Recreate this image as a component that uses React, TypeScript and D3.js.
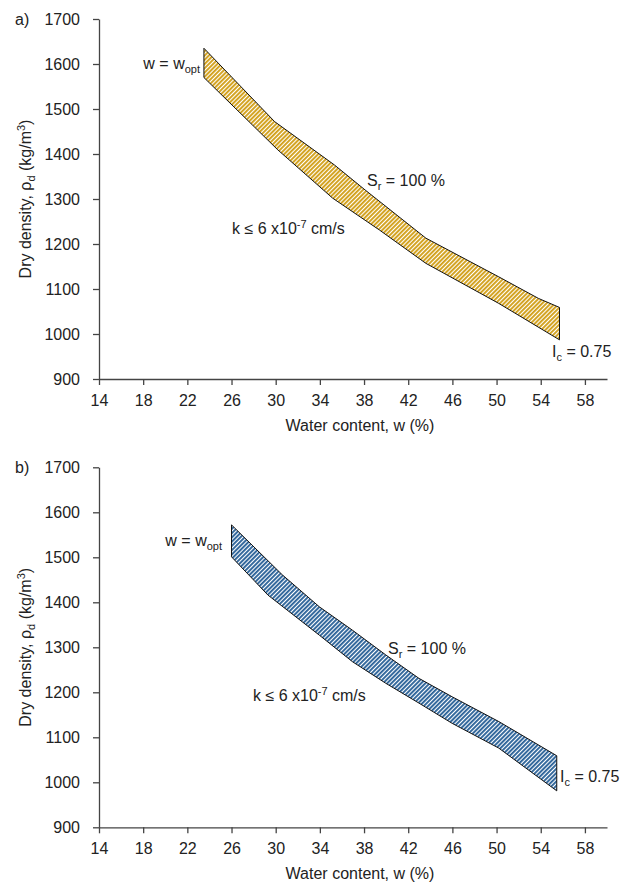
import React, { useEffect, useRef } from 'react';
import * as d3 from 'd3';

// panel a) upper edge (Sr = 100 %) and lower edge (k limit)
const upperA_w = [23.5, 29.9, 35.3, 38.1, 43.6, 50.2, 53.8, 55.7];
const upperA_rho = [1635, 1472, 1376, 1320, 1213, 1127, 1079, 1059];
const lowerA_w = [23.5, 30.2, 35.15, 39.4, 43.6, 50.2, 55.7];
const lowerA_rho = [1570, 1409, 1302, 1231, 1157, 1068, 987];

// panel b)
const upperB_w = [26.0, 30.6, 33.95, 36.95, 39.97, 42.97, 45.98, 50.2, 55.45];
const upperB_rho = [1572, 1461, 1390, 1338, 1283, 1231, 1190, 1135, 1059];
const lowerB_w = [26.0, 29.3, 33.95, 36.95, 39.97, 42.97, 45.98, 50.2, 55.45];
const lowerB_rho = [1501, 1416, 1327, 1268, 1220, 1176, 1131, 1076, 981];

const xTicks = [14, 18, 22, 26, 30, 34, 38, 42, 46, 50, 54, 58];
const yTicks = [900, 1000, 1100, 1200, 1300, 1400, 1500, 1600, 1700];

const FONT = 'Liberation Sans, Arial, sans-serif';

type Panel = {
  tag: string;
  top: number;
  upperW: number[];
  upperRho: number[];
  lowerW: number[];
  lowerRho: number[];
  pattern: string;
  wopt: [number, number];
  sr: [number, number];
  k: [number, number];
  ic: [number, number];
};

const panels: Panel[] = [
  {
    tag: 'a)', top: 19,
    upperW: upperA_w, upperRho: upperA_rho, lowerW: lowerA_w, lowerRho: lowerA_rho,
    pattern: 'hatchGold',
    wopt: [200, 69], sr: [367, 186], k: [232, 234], ic: [552, 357],
  },
  {
    tag: 'b)', top: 467.3,
    upperW: upperB_w, upperRho: upperB_rho, lowerW: lowerB_w, lowerRho: lowerB_rho,
    pattern: 'hatchBlue',
    wopt: [222, 546], sr: [388, 654], k: [253, 701], ic: [560, 782],
  },
];

export default function App() {
  const ref = useRef<SVGSVGElement>(null);

  useEffect(() => {
    const svg = d3.select(ref.current);
    svg.selectAll('*').remove();

    const defs = svg.append('defs');
    const addPattern = (id: string, color: string) => {
      const p = defs.append('pattern')
        .attr('id', id)
        .attr('patternUnits', 'userSpaceOnUse')
        .attr('width', 3)
        .attr('height', 3)
        .attr('patternTransform', 'rotate(45)');
      p.append('rect').attr('width', 3).attr('height', 3).attr('fill', '#fff');
      p.append('rect').attr('width', 1.9).attr('height', 3).attr('fill', color);
    };
    addPattern('hatchGold', '#d2a01a');
    addPattern('hatchBlue', '#2c6399');

    const left = 99;
    const right = 607;
    const plotH = 360;

    panels.forEach(pn => {
      const x = d3.scaleLinear().domain([14, 60]).range([left, right]);
      const y = d3.scaleLinear().domain([900, 1700]).range([pn.top + plotH, pn.top]);
      const g = svg.append('g');

      // band between the two limit curves
      const upper = pn.upperW.map((w, i) => [w, pn.upperRho[i]] as [number, number]);
      const lower = pn.lowerW.map((w, i) => [w, pn.lowerRho[i]] as [number, number]);
      const line = d3.line<[number, number]>().x(d => x(d[0])).y(d => y(d[1]));
      g.append('path')
        .attr('d', line([...upper, ...lower.slice().reverse()]) + 'Z')
        .attr('fill', `url(#${pn.pattern})`)
        .attr('stroke', '#111')
        .attr('stroke-width', 1)
        .attr('stroke-linejoin', 'round');

      // axes
      const xAxis = g.append('g')
        .attr('transform', `translate(0,${pn.top + plotH})`)
        .call(d3.axisBottom(x).tickValues(xTicks).tickSize(6).tickSizeOuter(0).tickPadding(6));
      const yAxis = g.append('g')
        .attr('transform', `translate(${left},0)`)
        .call(d3.axisLeft(y).tickValues(yTicks).tickFormat(d3.format('d')).tickSize(6).tickSizeOuter(0).tickPadding(13));
      [xAxis, yAxis].forEach(a => {
        a.selectAll('path, line').attr('stroke', '#444').attr('stroke-width', 1.3);
        a.selectAll('text')
          .attr('font-family', FONT)
          .attr('font-size', 16)
          .attr('fill', '#222');
      });
      xAxis.selectAll('text').attr('dy', '0.95em');

      const txt = (tx: number, ty: number, anchor = 'start') =>
        g.append('text')
          .attr('x', tx).attr('y', ty)
          .attr('text-anchor', anchor)
          .attr('font-family', FONT)
          .attr('font-size', 16)
          .attr('fill', '#222');

      // panel tag
      txt(15, pn.top + 6).text(pn.tag);

      // axis titles
      txt((left + right) / 2 + 7, pn.top + plotH + 52, 'middle').text('Water content, w (%)');
      const yt = g.append('text')
        .attr('transform', `translate(31,${pn.top + plotH / 2}) rotate(-90)`)
        .attr('text-anchor', 'middle')
        .attr('font-family', FONT)
        .attr('font-size', 16)
        .attr('fill', '#222');
      yt.append('tspan').text('Dry density, ρ');
      yt.append('tspan').attr('font-size', 11).attr('dy', 4).text('d');
      yt.append('tspan').attr('dy', -4).text(' (kg/m');
      yt.append('tspan').attr('font-size', 11).attr('dy', -6).text('3');
      yt.append('tspan').attr('dy', 6).text(')');

      // annotations
      const wo = txt(pn.wopt[0], pn.wopt[1], 'end');
      wo.append('tspan').text('w = w');
      wo.append('tspan').attr('font-size', 11).attr('dy', 4).text('opt');

      const sr = txt(pn.sr[0], pn.sr[1]);
      sr.append('tspan').text('S');
      sr.append('tspan').attr('font-size', 11).attr('dy', 4).text('r');
      sr.append('tspan').attr('dy', -4).text(' = 100 %');

      const kk = txt(pn.k[0], pn.k[1]);
      kk.append('tspan').text('k ≤ 6 x10');
      kk.append('tspan').attr('font-size', 11).attr('dy', -6).text('-7');
      kk.append('tspan').attr('dy', 6).text(' cm/s');

      const ic = txt(pn.ic[0], pn.ic[1]);
      ic.append('tspan').text('I');
      ic.append('tspan').attr('font-size', 11).attr('dy', 4).text('c');
      ic.append('tspan').attr('dy', -4).text(' = 0.75');
    });
  }, []);

  return (
    <svg
      ref={ref}
      width={627}
      height={894}
      style={{ position: 'absolute', left: 0, top: 0, background: '#fff' }}
    />
  );
}
